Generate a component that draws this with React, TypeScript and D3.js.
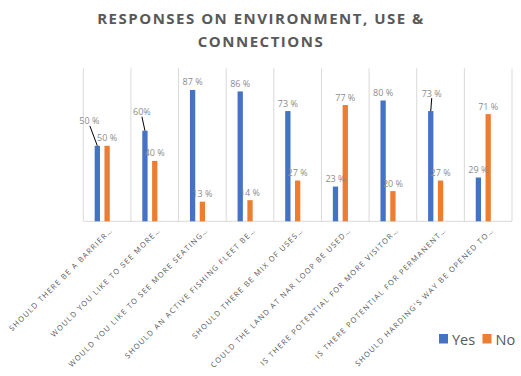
import React from "react";
import * as d3 from "d3";

const categories = [
  "SHOULD THERE BE A BARRIER…",
  "WOULD YOU LIKE TO SEE MORE…",
  "WOULD YOU LIKE TO SEE MORE SEATING…",
  "SHOULD AN ACTIVE FISHING FLEET BE…",
  "SHOULD THERE BE MIX OF USES…",
  "COULD THE LAND AT NAR LOOP BE USED…",
  "IS THERE POTENTIAL FOR MORE VISITOR…",
  "IS THERE POTENTIAL FOR PERMANENT…",
  "SHOULD HARDING'S WAY BE OPENED TO…",
];
const yesValues = [50, 60, 87, 86, 73, 23, 80, 73, 29];
const noValues = [50, 40, 13, 14, 27, 77, 20, 27, 71];
const yesLabels = ["50 %", "60%", "87 %", "86 %", "73 %", "23 %", "80 %", "73 %", "29 %"];
const noLabels = ["50 %", "40 %", "13 %", "14 %", "27 %", "77 %", "20 %", "27 %", "71 %"];
const seriesNames = ["Yes", "No"];

const COLORS: Record<string, string> = { Yes: "#4472C4", No: "#ED7D31" };

// manual label displacements (with leader lines) for a few Yes labels
const yesLabelShift: Record<number, [number, number]> = {
  0: [-8, -17],
  1: [-3, -11],
  7: [1, -10],
};

const W = 521;
const H = 376;
const plotLeft = 83.3;
const plotRight = 512;
const plotTop = 68.3;
const baseline = 221.3;

export default function App() {
  const x = d3.scaleBand<string>().domain(categories).range([plotLeft, plotRight]).padding(0);
  const inner = d3
    .scaleBand<string>()
    .domain(["Yes", "No", "_"])
    .range([0, x.bandwidth()])
    .paddingInner(0.46)
    .paddingOuter(1.16);
  const y = d3.scaleLinear().domain([0, 100]).range([baseline, baseline - 151]);

  const gridXs = categories.map((c) => x(c) as number).concat([plotRight]);

  const series = [
    { name: "Yes", values: yesValues, labels: yesLabels },
    { name: "No", values: noValues, labels: noLabels },
  ];

  return (
    <svg
      width={W}
      height={H}
      style={{ position: "absolute", left: 0, top: 0, background: "#fff" }}
      fontFamily="'Open Sans', sans-serif"
    >
      <rect x={0} y={0} width={W} height={H} fill="#fff" />
      {/* title */}
      <text
        x={261}
        y={24}
        textAnchor="middle"
        fontSize={15}
        fontWeight={700}
        fill="#595959"
        letterSpacing={1.5}
      >
        RESPONSES ON ENVIRONMENT, USE &amp;
      </text>
      <text
        x={261}
        y={47.3}
        textAnchor="middle"
        fontSize={15}
        fontWeight={700}
        fill="#595959"
        letterSpacing={1.5}
      >
        CONNECTIONS
      </text>

      {/* vertical gridlines */}
      {gridXs.map((gx, i) => (
        <line key={i} x1={gx} x2={gx} y1={plotTop} y2={baseline} stroke="#d9d9d9" strokeWidth={1} />
      ))}
      <line x1={plotLeft} x2={plotRight} y1={baseline} y2={baseline} stroke="#d9d9d9" strokeWidth={1} />

      {/* bars */}
      {series.map((s) =>
        categories.map((c, i) => {
          const bx = (x(c) as number) + (inner(s.name) as number);
          const by = y(s.values[i]);
          return (
            <rect
              key={s.name + i}
              x={bx}
              y={by}
              width={inner.bandwidth()}
              height={baseline - by}
              fill={COLORS[s.name]}
            />
          );
        })
      )}

      {/* data labels */}
      {series.map((s) =>
        categories.map((c, i) => {
          const cx = (x(c) as number) + (inner(s.name) as number) + inner.bandwidth() / 2;
          const top = y(s.values[i]);
          let lx = cx;
          let ly = top - 8;
          const shift = s.name === "Yes" ? yesLabelShift[i] : undefined;
          if (shift) {
            lx += shift[0];
            ly += shift[1];
          }
          return (
            <g key={"l" + s.name + i}>
              {shift && (
                <line
                  x1={lx + (shift[0] < -5 ? 0.5 : 0)}
                  y1={ly + 5}
                  x2={cx}
                  y2={top}
                  stroke="#000"
                  strokeWidth={1}
                />
              )}
              <text
                x={lx}
                y={ly + 3.5}
                textAnchor="middle"
                fontSize={9}
                fill="#8c8c8c"
              >
                {s.labels[i]}
              </text>
            </g>
          );
        })
      )}

      {/* category labels */}
      {categories.map((c) => {
        const cx = (x(c) as number) + x.bandwidth() / 2;
        return (
          <text
            key={c}
            transform={`translate(${cx + 6},${baseline + 9.5}) rotate(-45)`}
            textAnchor="end"
            fontSize={7.5}
            letterSpacing={1.25}
            fill="#595959"
          >
            {c}
          </text>
        );
      })}

      {/* legend */}
      {seriesNames.map((n, i) => {
        const lx = i === 0 ? 439 : 482.5;
        return (
          <g key={n}>
            <rect x={lx} y={334} width={9} height={9.5} fill={COLORS[n]} />
            <text x={lx + 13} y={344.5} fontSize={14.5} fill="#595959">
              {n}
            </text>
          </g>
        );
      })}
    </svg>
  );
}
